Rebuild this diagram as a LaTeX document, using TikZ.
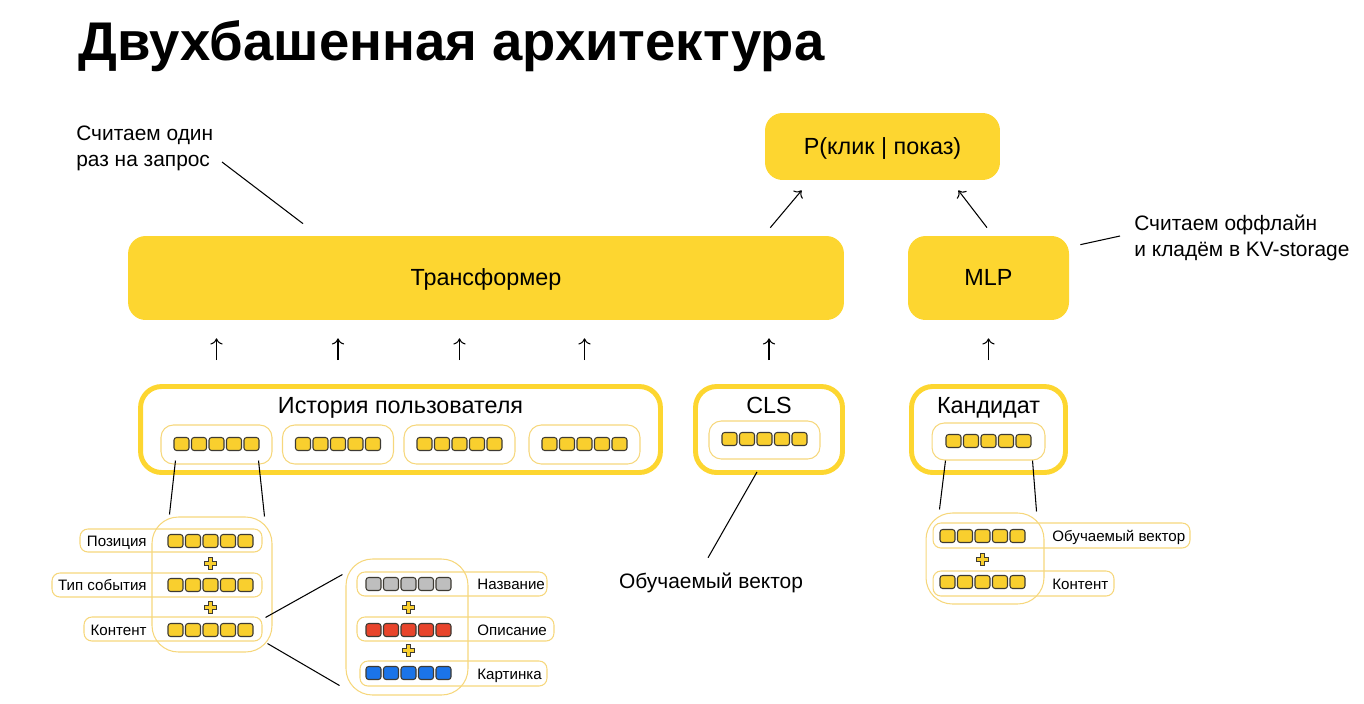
\documentclass[tikz,border=0pt]{standalone}
\usepackage{fontspec}
\setmainfont{Liberation Sans}
\usetikzlibrary{calc,arrows.meta}
\definecolor{TowerYellow}{HTML}{FDD630}
\definecolor{TowerPale}{HTML}{F6D77C}
\definecolor{CellYellow}{HTML}{F9CF2E}
\definecolor{CellEdge}{HTML}{3D3A33}
\definecolor{CellGrey}{HTML}{BEBEBE}
\definecolor{CellRed}{HTML}{E8442B}
\definecolor{CellBlue}{HTML}{1B74E9}

% row of five embedding cells: name, first x, y, colour
\newcommand{\cellrow}[4]{%
  \foreach \k in {0,...,4} {\node[cell, fill=#4] (#1-\k) at ({#2+17.5*\k}, #3) {};}}
% small plus between two rows
\newcommand{\plusmark}[2]{%
  \draw[plusmk, shift={(#1,#2)}] (-2,-6) -- (2,-6) -- (2,-2) -- (6,-2) -- (6,2) -- (2,2)
    -- (2,6) -- (-2,6) -- (-2,2) -- (-6,2) -- (-6,-2) -- (-2,-2) -- cycle;}

\begin{document}
\begin{tikzpicture}[x=0.02cm, y=-0.02cm,
        every node/.style={font=\fontsize{13.3}{16}\selectfont},
        solidbox/.style={rectangle, fill=TowerYellow, rounded corners=10pt, inner sep=0pt, text depth=0.1em},
        tower/.style={rectangle, draw=TowerYellow, line width=2.8pt, rounded corners=12pt, inner sep=0pt},
        pale/.style={rectangle, draw=TowerPale, line width=0.6pt, rounded corners=4.5pt, inner sep=0pt},
        stack/.style={rectangle, draw=TowerPale, line width=0.6pt, rounded corners=15pt, inner sep=0pt},
        cell/.style={rectangle, draw=CellEdge, line width=0.6pt, rounded corners=1.5pt,
            minimum width=0.3cm, minimum height=0.26cm, inner sep=0pt},
        small/.style={font=\fontsize{8.6}{10}\selectfont, inner sep=0pt},
        note/.style={font=\fontsize{11.9}{14.7}\selectfont, align=left, inner sep=0pt},
        plusmk/.style={fill=CellYellow, draw=CellEdge, line width=0.5pt},
        link/.style={line width=0.6pt},
        arr/.style={-{To[length=3.5pt,width=7pt]}, line width=0.6pt}]
    \useasboundingbox (0,0) rectangle (1364,703);

    \node[anchor=base west, inner sep=0pt, font=\fontsize{31}{36}\selectfont\bfseries] (title) at (78,60) {Двухбашенная архитектура};

    % top level
    \node[solidbox, minimum width=4.7cm, minimum height=1.34cm] (prob) at (882.5,146.5) {P(клик | показ)};
    \node[solidbox, minimum width=14.32cm, minimum height=1.68cm] (trans) at (486,278) {Трансформер};
    \node[solidbox, minimum width=3.22cm, minimum height=1.68cm] (mlp) at (988.5,278) {MLP};
    \node[note, anchor=base west] (onceNote) at (76,166) {Считаем один\\раз на запрос};
    \node[note, anchor=base west] (offNote) at (1134,256) {Считаем оффлайн\\и кладём в KV-storage};

    % towers
    \node[tower, minimum width=10.4cm, minimum height=1.72cm] (hist) at (400.5,429.5) {};
    \node[anchor=base, inner sep=0pt] (histname) at (400.5,413) {История пользователя};
    \node[tower, minimum width=2.94cm, minimum height=1.72cm] (cls) at (769,429.5) {};
    \node[anchor=base, inner sep=0pt] (clsname) at (769,413) {CLS};
    \node[tower, minimum width=3.08cm, minimum height=1.72cm] (cand) at (988.5,429.5) {};
    \node[anchor=base, inner sep=0pt] (candname) at (988.5,413) {Кандидат};

    \node[pale, rounded corners=7pt, minimum width=2.22cm, minimum height=0.78cm] (h1) at (216.5,444.5) {};
    \node[pale, rounded corners=7pt, minimum width=2.22cm, minimum height=0.78cm] (h2) at (338,444.5) {};
    \node[pale, rounded corners=7pt, minimum width=2.22cm, minimum height=0.78cm] (h3) at (459.5,444.5) {};
    \node[pale, rounded corners=7pt, minimum width=2.22cm, minimum height=0.78cm] (h4) at (584.5,444.5) {};
    \node[pale, rounded corners=7pt, minimum width=2.22cm, minimum height=0.76cm] (clsin) at (764.5,440) {};
    \node[pale, rounded corners=7pt, minimum width=2.26cm, minimum height=0.74cm] (candin) at (988.5,441.5) {};
    \cellrow{h1c}{181.5}{444}{CellYellow}
    \cellrow{h2c}{303}{444}{CellYellow}
    \cellrow{h3c}{424.5}{444}{CellYellow}
    \cellrow{h4c}{549.5}{444}{CellYellow}
    \cellrow{clsc}{729.5}{439}{CellYellow}
    \cellrow{candc}{953.5}{441}{CellYellow}

    % event embedding
    \node[stack, minimum width=2.4cm, minimum height=2.7cm] (lstack) at (212,584.5) {};
    \node[pale, minimum width=3.64cm, minimum height=0.46cm] (posrow) at (171,540.5) {};
    \node[small, anchor=base east] (poslbl) at (147,546.5) {Позиция};
    \cellrow{posc}{175.5}{541}{CellYellow}
    \node[pale, minimum width=4.2cm, minimum height=0.48cm] (typerow) at (157,585) {};
    \node[small, anchor=base east] (typelbl) at (147,590.5) {Тип события};
    \cellrow{typec}{175.5}{585}{CellYellow}
    \node[pale, minimum width=3.56cm, minimum height=0.48cm] (controw) at (173,629) {};
    \node[small, anchor=base east] (contlbl) at (147,635.5) {Контент};
    \cellrow{contc}{175.5}{630}{CellYellow}
    \plusmark{210}{563}
    \plusmark{210}{607}

    % content embedding
    \node[stack, minimum width=2.44cm, minimum height=2.72cm] (rstack) at (407,627) {};
    \node[pale, minimum width=3.8cm, minimum height=0.48cm] (namerow) at (452,584) {};
    \node[small, anchor=base west] (namelbl) at (477,589.5) {Название};
    \cellrow{namec}{373.5}{584}{CellGrey}
    \node[pale, minimum width=3.94cm, minimum height=0.48cm] (descrow) at (455.5,629) {};
    \node[small, anchor=base west] (desclbl) at (477,635.5) {Описание};
    \cellrow{descc}{373.5}{630}{CellRed}
    \node[pale, minimum width=3.74cm, minimum height=0.5cm] (picrow) at (453.5,673.5) {};
    \node[small, anchor=base west] (piclbl) at (477,679) {Картинка};
    \cellrow{picc}{373.5}{673}{CellBlue}
    \plusmark{408}{607}
    \plusmark{408}{650}

    % candidate embedding
    \node[stack, minimum width=2.36cm, minimum height=1.82cm] (cstack) at (985,558.5) {};
    \node[pale, minimum width=5.14cm, minimum height=0.5cm] (learnrow) at (1061.5,535.5) {};
    \node[small, anchor=base west] (learnlbl) at (1052,541.5) {Обучаемый вектор};
    \cellrow{learnc}{947.5}{536}{CellYellow}
    \node[pale, minimum width=3.62cm, minimum height=0.5cm] (candcrow) at (1023.5,583.5) {};
    \node[small, anchor=base west] (candclbl) at (1052,589) {Контент};
    \cellrow{candcc}{947.5}{582}{CellYellow}
    \plusmark{982}{559}

    \node[inner sep=0pt, font=\fontsize{11.9}{14}\selectfont] (clsvec) at (711,583) {Обучаемый вектор};

    % connectors
    \coordinate (onceTip) at (222,162);
    \draw[link] (onceTip) -- ($(trans.north)+(-183,-12)$);
    \draw[link] ($(mlp.north east)+(11,9)$) -- ($(offNote.base west)+(-14,-20)$);
    \draw[arr] ($(trans.north east)+(-74,-8)$) -- ($(prob.south west)+(37,10)$);
    \draw[arr] ($(mlp.north)+(-1.5,-8)$) -- ($(prob.south east)+(-42,10)$);
    \foreach \t in {h1,h2,h3,h4}
        \draw[arr] ($(\t |- hist.north)+(0,-24)$) -- ($(\t |- trans.south)+(0,18)$);
    \draw[arr] ($(cls.north)+(0,-24)$) -- ($(cls |- trans.south)+(0,18)$);
    \draw[arr] ($(cand.north)+(0,-24)$) -- ($(mlp.south)+(0,18)$);
    \draw[link] ($(cls.south)+(-12,-3)$) -- ($(clsvec.north)+(-3,-15)$);
    \draw[link] ($(h1.south west)+(15,-4)$) -- ($(lstack.north west)+(18,-2)$);
    \draw[link] ($(h1.south east)+(-14,-4)$) -- ($(lstack.north east)+(-8,0)$);
    \draw[link] ($(controw.north east)+(3,1)$) -- ($(rstack.north west)+(-3,16)$);
    \draw[link] ($(controw.south east)+(5,2)$) -- ($(rstack.south west)+(-6,-10)$);
    \draw[link] ($(candin.south west)+(14,0)$) -- ($(cstack.north west)+(14,-3)$);
    \draw[link] ($(candin.south east)+(-13,0)$) -- ($(cstack.north east)+(-8,-1)$);
\end{tikzpicture}
\end{document}
